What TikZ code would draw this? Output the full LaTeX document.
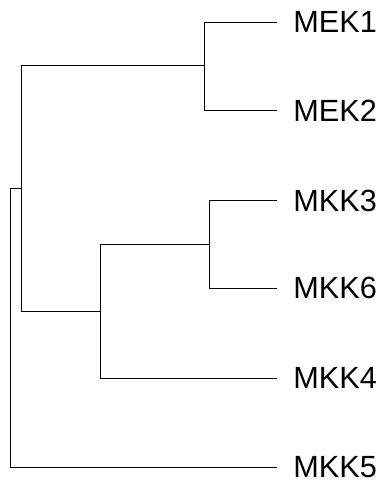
\documentclass[tikz,border=0pt]{standalone}
\usepackage{fontspec}
\setmainfont{Liberation Sans}
\usepackage{tikz}

\begin{document}
\begin{tikzpicture}[x=0.75pt, y=-0.75pt, line width=0.6pt,
    leaf/.style={anchor=west, inner xsep=12pt, inner ysep=0pt, yshift=-1.3pt,
      font=\fontsize{23}{27}\selectfont}]
      \useasboundingbox (0, 0) rectangle (384, 487);
      % leaves
      \node[leaf] (mek1) at (277, 20.7) {MEK1};
      \node[leaf] (mek2) at (277, 109) {MEK2};
      \node[leaf] (mkk3) at (277, 199) {MKK3};
      \node[leaf] (mkk6) at (277, 286.7) {MKK6};
      \node[leaf] (mkk4) at (277, 376.7) {MKK4};
      \node[leaf] (mkk5) at (277, 465.7) {MKK5};
      % inner branch points
      \coordinate (mek) at (204, 65);
      \coordinate (mkk36) at (209, 244);
      \coordinate (mkk364) at (100, 311);
      \coordinate (inner) at (21, 188.3);
      \coordinate (root) at (10.5, 188.3);
      \draw (mek) |- (mek1.west);
      \draw (mek) |- (mek2.west);
      \draw (mkk36) |- (mkk3.west);
      \draw (mkk36) |- (mkk6.west);
      \draw (mkk364) |- (mkk36);
      \draw (mkk364) |- (mkk4.west);
      \draw (inner) |- (mek);
      \draw (inner) |- (mkk364);
      \draw (inner) -- (root) |- (mkk5.west);
    \end{tikzpicture}
\end{document}
